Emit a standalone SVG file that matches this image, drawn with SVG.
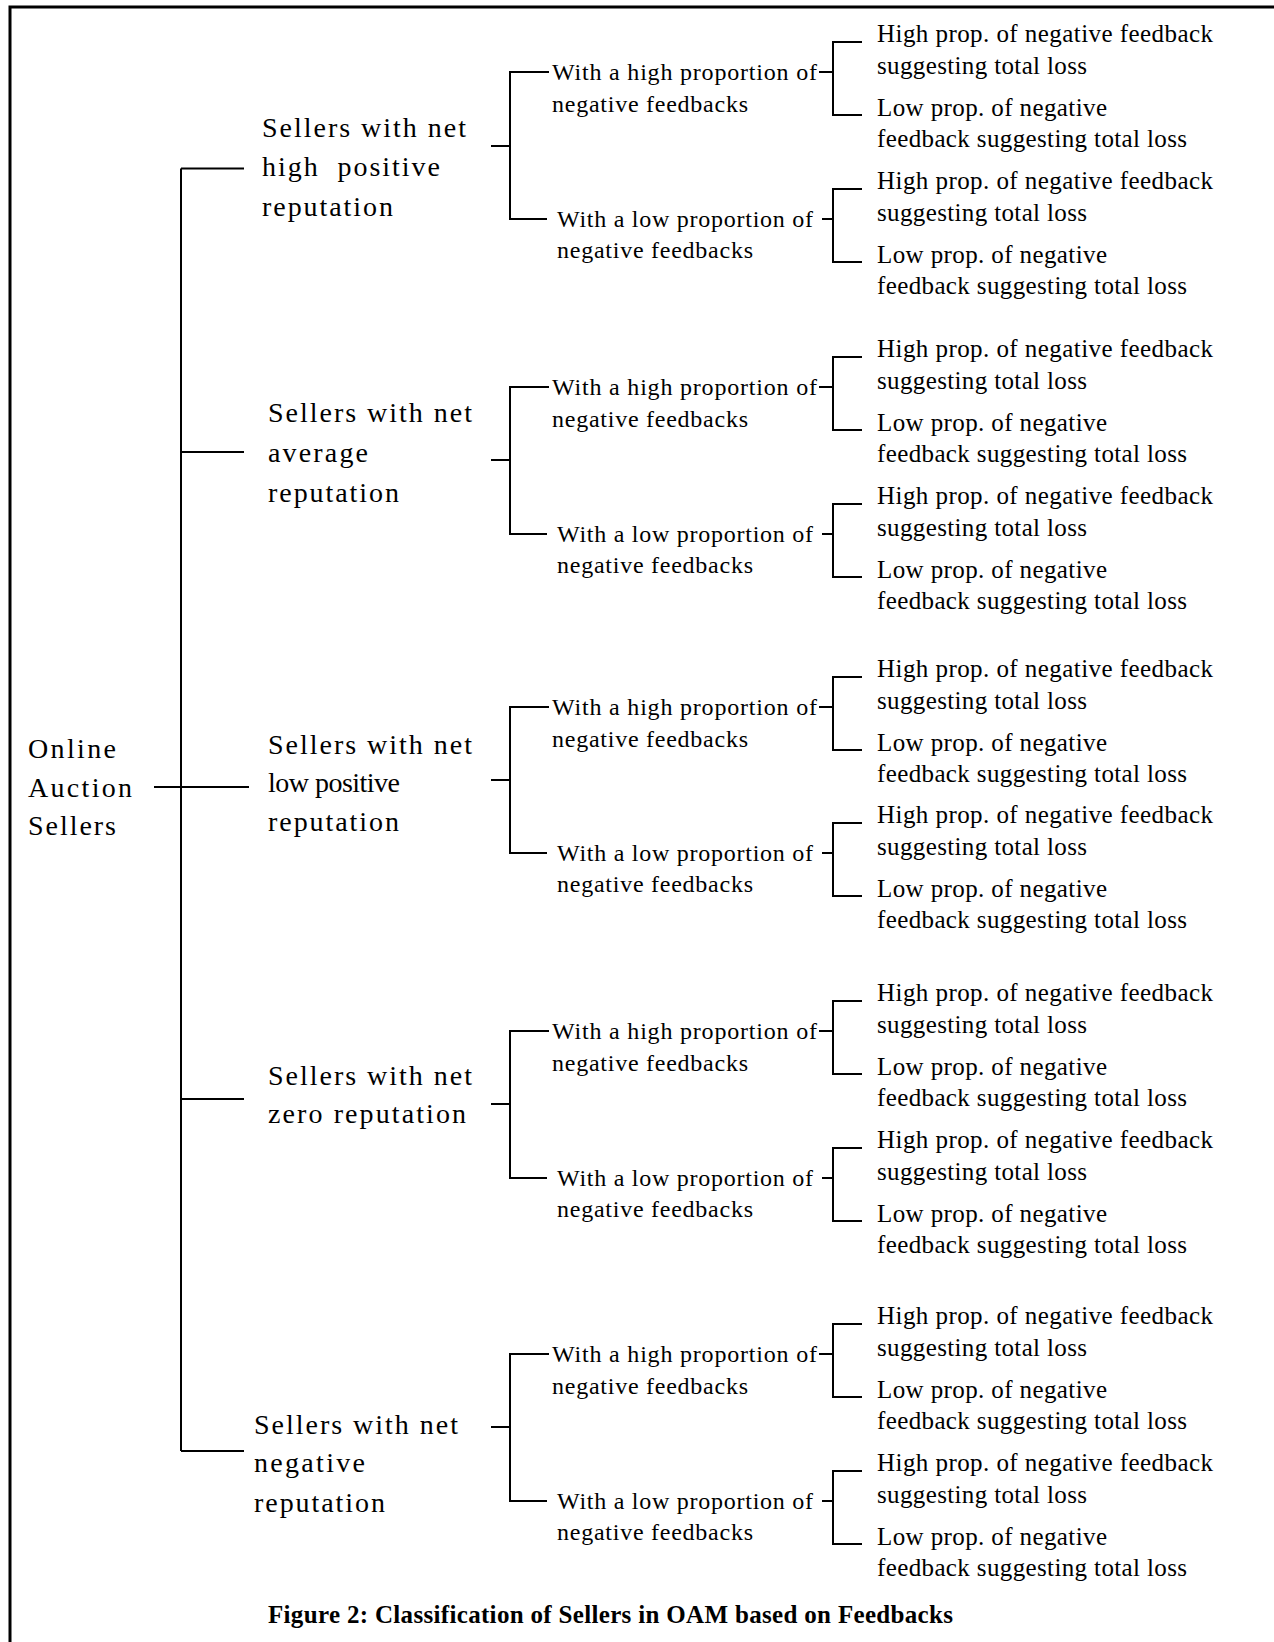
<svg xmlns="http://www.w3.org/2000/svg" width="1274" height="1642" viewBox="0 0 1274 1642">
<style>
text{font-family:"Liberation Serif","Times New Roman",serif;fill:#000;dominant-baseline:central}
.l0,.l1{font-size:28px}
.l2{font-size:24px}
.l3{font-size:25px}
.cap{font-size:25px;font-weight:bold}
.c line,.c path{stroke:#000;stroke-width:2;fill:none}
</style>
<rect width="1274" height="1642" fill="#fff"/>
<g id="frame" class="c"><path d="M10 1642 V7 H1274" style="stroke-width:3"/></g>
<g id="connectors" class="c">
<line x1="181" y1="168.5" x2="181" y2="1451"/>
<line x1="181" y1="168.5" x2="244" y2="168.5"/>
<line x1="181" y1="452" x2="244" y2="452"/>
<line x1="154" y1="787" x2="249" y2="787"/>
<line x1="181" y1="1099" x2="244" y2="1099"/>
<line x1="181" y1="1451" x2="244" y2="1451"/>
<path d="M491 146 H510 M549 72 H510 V219 H547"/>
<path d="M491 460 H510 M549 387 H510 V534 H547"/>
<path d="M491 780 H510 M549 707 H510 V853 H547"/>
<path d="M491 1104 H510 M549 1031 H510 V1178 H547"/>
<path d="M491 1427 H510 M549 1354 H510 V1501 H547"/>
<path d="M819 72 H833 M862 42 H833 V115 H862"/>
<path d="M822 219 H833 M862 189 H833 V262 H862"/>
<path d="M819 387 H833 M862 357 H833 V430 H862"/>
<path d="M822 534 H833 M862 504 H833 V577 H862"/>
<path d="M819 707 H833 M862 677 H833 V750 H862"/>
<path d="M822 853 H833 M862 823 H833 V896 H862"/>
<path d="M819 1031 H833 M862 1001 H833 V1074 H862"/>
<path d="M822 1178 H833 M862 1148 H833 V1221 H862"/>
<path d="M819 1354 H833 M862 1324 H833 V1397 H862"/>
<path d="M822 1501 H833 M862 1471 H833 V1544 H862"/>
</g>
<g id="root"><text class="l0" x="28" y="748" textLength="88" lengthAdjust="spacing">Online</text><text class="l0" x="28" y="787" textLength="104" lengthAdjust="spacing">Auction</text><text class="l0" x="28" y="825" textLength="88" lengthAdjust="spacing">Sellers</text></g>
<g id="s1"><text class="l1" x="262" y="127" textLength="204" lengthAdjust="spacing">Sellers with net</text><text class="l1" x="262" y="166" textLength="178" lengthAdjust="spacing" xml:space="preserve">high  positive</text><text class="l1" x="262" y="206" textLength="131" lengthAdjust="spacing">reputation</text></g>
<g id="s2"><text class="l1" x="268" y="412" textLength="204" lengthAdjust="spacing">Sellers with net</text><text class="l1" x="268" y="452" textLength="100" lengthAdjust="spacing">average</text><text class="l1" x="268" y="492" textLength="131" lengthAdjust="spacing">reputation</text></g>
<g id="s3"><text class="l1" x="268" y="744" textLength="204" lengthAdjust="spacing">Sellers with net</text><text class="l1" x="268" y="782" textLength="132" lengthAdjust="spacing">low positive</text><text class="l1" x="268" y="821" textLength="131" lengthAdjust="spacing">reputation</text></g>
<g id="s4"><text class="l1" x="268" y="1075" textLength="204" lengthAdjust="spacing">Sellers with net</text><text class="l1" x="268" y="1113" textLength="198" lengthAdjust="spacing">zero reputation</text></g>
<g id="s5"><text class="l1" x="254" y="1424" textLength="204" lengthAdjust="spacing">Sellers with net</text><text class="l1" x="254" y="1462" textLength="111" lengthAdjust="spacing">negative</text><text class="l1" x="254" y="1502" textLength="131" lengthAdjust="spacing">reputation</text></g>
<g id="s1h"><text class="l2" x="552" y="72" textLength="265" lengthAdjust="spacing">With a high proportion of</text><text class="l2" x="552" y="104" textLength="196" lengthAdjust="spacing">negative feedbacks</text></g>
<g id="s1l"><text class="l2" x="557" y="219" textLength="256" lengthAdjust="spacing">With a low proportion of</text><text class="l2" x="557" y="250" textLength="196" lengthAdjust="spacing">negative feedbacks</text></g>
<g id="s2h"><text class="l2" x="552" y="387" textLength="265" lengthAdjust="spacing">With a high proportion of</text><text class="l2" x="552" y="419" textLength="196" lengthAdjust="spacing">negative feedbacks</text></g>
<g id="s2l"><text class="l2" x="557" y="534" textLength="256" lengthAdjust="spacing">With a low proportion of</text><text class="l2" x="557" y="565" textLength="196" lengthAdjust="spacing">negative feedbacks</text></g>
<g id="s3h"><text class="l2" x="552" y="707" textLength="265" lengthAdjust="spacing">With a high proportion of</text><text class="l2" x="552" y="739" textLength="196" lengthAdjust="spacing">negative feedbacks</text></g>
<g id="s3l"><text class="l2" x="557" y="853" textLength="256" lengthAdjust="spacing">With a low proportion of</text><text class="l2" x="557" y="884" textLength="196" lengthAdjust="spacing">negative feedbacks</text></g>
<g id="s4h"><text class="l2" x="552" y="1031" textLength="265" lengthAdjust="spacing">With a high proportion of</text><text class="l2" x="552" y="1063" textLength="196" lengthAdjust="spacing">negative feedbacks</text></g>
<g id="s4l"><text class="l2" x="557" y="1178" textLength="256" lengthAdjust="spacing">With a low proportion of</text><text class="l2" x="557" y="1209" textLength="196" lengthAdjust="spacing">negative feedbacks</text></g>
<g id="s5h"><text class="l2" x="552" y="1354" textLength="265" lengthAdjust="spacing">With a high proportion of</text><text class="l2" x="552" y="1386" textLength="196" lengthAdjust="spacing">negative feedbacks</text></g>
<g id="s5l"><text class="l2" x="557" y="1501" textLength="256" lengthAdjust="spacing">With a low proportion of</text><text class="l2" x="557" y="1532" textLength="196" lengthAdjust="spacing">negative feedbacks</text></g>
<g id="s1h-hi"><text class="l3" x="877" y="33" textLength="336" lengthAdjust="spacing">High prop. of negative feedback</text><text class="l3" x="877" y="65" textLength="210" lengthAdjust="spacing">suggesting total loss</text></g>
<g id="s1h-lo"><text class="l3" x="877" y="107" textLength="230" lengthAdjust="spacing">Low prop. of negative</text><text class="l3" x="877" y="138" textLength="310" lengthAdjust="spacing">feedback suggesting total loss</text></g>
<g id="s1l-hi"><text class="l3" x="877" y="180" textLength="336" lengthAdjust="spacing">High prop. of negative feedback</text><text class="l3" x="877" y="212" textLength="210" lengthAdjust="spacing">suggesting total loss</text></g>
<g id="s1l-lo"><text class="l3" x="877" y="254" textLength="230" lengthAdjust="spacing">Low prop. of negative</text><text class="l3" x="877" y="285" textLength="310" lengthAdjust="spacing">feedback suggesting total loss</text></g>
<g id="s2h-hi"><text class="l3" x="877" y="348" textLength="336" lengthAdjust="spacing">High prop. of negative feedback</text><text class="l3" x="877" y="380" textLength="210" lengthAdjust="spacing">suggesting total loss</text></g>
<g id="s2h-lo"><text class="l3" x="877" y="422" textLength="230" lengthAdjust="spacing">Low prop. of negative</text><text class="l3" x="877" y="453" textLength="310" lengthAdjust="spacing">feedback suggesting total loss</text></g>
<g id="s2l-hi"><text class="l3" x="877" y="495" textLength="336" lengthAdjust="spacing">High prop. of negative feedback</text><text class="l3" x="877" y="527" textLength="210" lengthAdjust="spacing">suggesting total loss</text></g>
<g id="s2l-lo"><text class="l3" x="877" y="569" textLength="230" lengthAdjust="spacing">Low prop. of negative</text><text class="l3" x="877" y="600" textLength="310" lengthAdjust="spacing">feedback suggesting total loss</text></g>
<g id="s3h-hi"><text class="l3" x="877" y="668" textLength="336" lengthAdjust="spacing">High prop. of negative feedback</text><text class="l3" x="877" y="700" textLength="210" lengthAdjust="spacing">suggesting total loss</text></g>
<g id="s3h-lo"><text class="l3" x="877" y="742" textLength="230" lengthAdjust="spacing">Low prop. of negative</text><text class="l3" x="877" y="773" textLength="310" lengthAdjust="spacing">feedback suggesting total loss</text></g>
<g id="s3l-hi"><text class="l3" x="877" y="814" textLength="336" lengthAdjust="spacing">High prop. of negative feedback</text><text class="l3" x="877" y="846" textLength="210" lengthAdjust="spacing">suggesting total loss</text></g>
<g id="s3l-lo"><text class="l3" x="877" y="888" textLength="230" lengthAdjust="spacing">Low prop. of negative</text><text class="l3" x="877" y="919" textLength="310" lengthAdjust="spacing">feedback suggesting total loss</text></g>
<g id="s4h-hi"><text class="l3" x="877" y="992" textLength="336" lengthAdjust="spacing">High prop. of negative feedback</text><text class="l3" x="877" y="1024" textLength="210" lengthAdjust="spacing">suggesting total loss</text></g>
<g id="s4h-lo"><text class="l3" x="877" y="1066" textLength="230" lengthAdjust="spacing">Low prop. of negative</text><text class="l3" x="877" y="1097" textLength="310" lengthAdjust="spacing">feedback suggesting total loss</text></g>
<g id="s4l-hi"><text class="l3" x="877" y="1139" textLength="336" lengthAdjust="spacing">High prop. of negative feedback</text><text class="l3" x="877" y="1171" textLength="210" lengthAdjust="spacing">suggesting total loss</text></g>
<g id="s4l-lo"><text class="l3" x="877" y="1213" textLength="230" lengthAdjust="spacing">Low prop. of negative</text><text class="l3" x="877" y="1244" textLength="310" lengthAdjust="spacing">feedback suggesting total loss</text></g>
<g id="s5h-hi"><text class="l3" x="877" y="1315" textLength="336" lengthAdjust="spacing">High prop. of negative feedback</text><text class="l3" x="877" y="1347" textLength="210" lengthAdjust="spacing">suggesting total loss</text></g>
<g id="s5h-lo"><text class="l3" x="877" y="1389" textLength="230" lengthAdjust="spacing">Low prop. of negative</text><text class="l3" x="877" y="1420" textLength="310" lengthAdjust="spacing">feedback suggesting total loss</text></g>
<g id="s5l-hi"><text class="l3" x="877" y="1462" textLength="336" lengthAdjust="spacing">High prop. of negative feedback</text><text class="l3" x="877" y="1494" textLength="210" lengthAdjust="spacing">suggesting total loss</text></g>
<g id="s5l-lo"><text class="l3" x="877" y="1536" textLength="230" lengthAdjust="spacing">Low prop. of negative</text><text class="l3" x="877" y="1567" textLength="310" lengthAdjust="spacing">feedback suggesting total loss</text></g>
<g id="caption"><text class="cap" x="268" y="1614" textLength="685" lengthAdjust="spacing">Figure 2: Classification of Sellers in OAM based on Feedbacks</text></g>
</svg>
